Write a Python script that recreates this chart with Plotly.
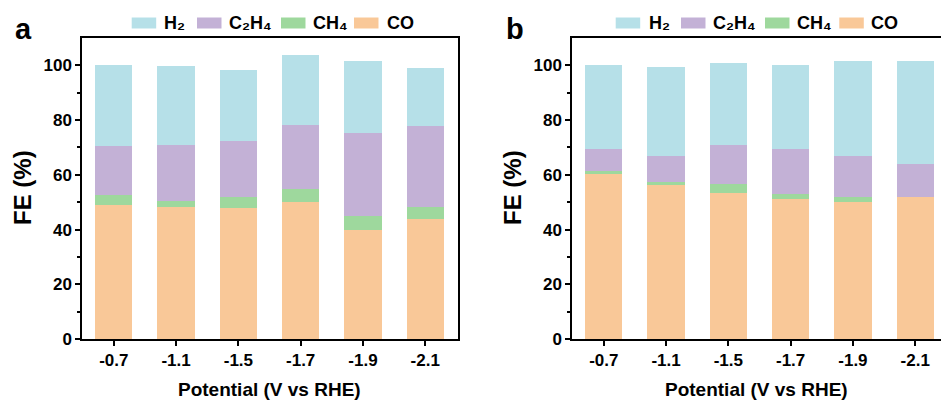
import plotly.graph_objects as go

# Applied potentials (V vs RHE)
potentials = ["-0.7", "-1.1", "-1.5", "-1.7", "-1.9", "-2.1"]

# Faradaic efficiencies (%) — panel a
a_co = [48.8, 48.1, 47.8, 50.0, 39.8, 43.8]
a_ch4 = [3.8, 2.5, 4.1, 4.9, 5.2, 4.5]
a_c2h4 = [18.1, 20.3, 20.6, 23.2, 30.2, 29.4]
a_h2 = [29.5, 28.7, 25.8, 25.8, 26.5, 21.5]

# Faradaic efficiencies (%) — panel b
b_co = [60.2, 56.3, 53.5, 51.1, 50.1, 51.9]
b_ch4 = [1.2, 1.1, 3.0, 1.8, 1.7, 0.0]
b_c2h4 = [8.2, 9.4, 14.3, 16.4, 15.2, 11.9]
b_h2 = [30.4, 32.5, 30.0, 30.9, 34.7, 37.7]

products = ["CO", "CH4", "C2H4", "H2"]
product_labels = {"H2": "H₂", "C2H4": "C₂H₄", "CH4": "CH₄", "CO": "CO"}
colors = {"H2": "#b6e0e8", "C2H4": "#c3b1d6", "CH4": "#9ed89d", "CO": "#f9c898"}

W, H = 941, 403
FONT = "Liberation Sans, Arial, sans-serif"

fig = go.Figure()

panels = [
    ("x", "y", {"CO": a_co, "CH4": a_ch4, "C2H4": a_c2h4, "H2": a_h2}),
    ("x2", "y2", {"CO": b_co, "CH4": b_ch4, "C2H4": b_c2h4, "H2": b_h2}),
]
for xa, ya, data in panels:
    for p in products:
        fig.add_trace(go.Bar(
            x=potentials, y=data[p], name=p, xaxis=xa, yaxis=ya,
            marker=dict(color=colors[p], line=dict(width=0)),
            width=0.6, showlegend=False,
        ))

def px_x(v):
    return v / W

def px_y(v):
    return (H - v) / H

y_dom = [px_y(339), px_y(38)]
tickfont = dict(family=FONT, size=17, color="black", weight="bold")

common_x = dict(
    type="category", showline=True, linecolor="black", linewidth=1.5,
    ticks="outside", ticklen=5, tickwidth=1.5, tickcolor="black",
    tickfont=tickfont, showgrid=False, zeroline=False, automargin=False,
)
common_y = dict(
    range=[0, 110], tickvals=[0, 20, 40, 60, 80, 100],
    showline=True, linecolor="black", linewidth=1.5,
    ticks="outside", ticklen=5, tickwidth=1.5, tickcolor="black",
    minor=dict(tickvals=[10, 30, 50, 70, 90], ticks="outside", ticklen=3,
               tickwidth=1.5, tickcolor="black"),
    tickfont=tickfont, showgrid=False, zeroline=False, domain=y_dom,
    automargin=False,
)

fig.update_layout(
    template="none",
    width=W, height=H, margin=dict(l=0, r=0, t=0, b=0, pad=0),
    paper_bgcolor="white", plot_bgcolor="white", barmode="stack",
    xaxis=dict(common_x, domain=[px_x(82), px_x(458)], range=[-0.51, 5.526],
               anchor="y", mirror=True),
    yaxis=dict(common_y, anchor="x", mirror=True),
    xaxis2=dict(common_x, domain=[px_x(572), 1.0], range=[-0.51, 5.414],
                anchor="y2", mirror=True),
    yaxis2=dict(common_y, anchor="x2", mirror=False),
)

annotations = []
shapes = []

# Panel letters, axis titles
for letter, lx, ytx, center in [("a", 23, 23, 269), ("b", 515, 513, 756)]:
    annotations.append(dict(
        text=letter, x=px_x(lx), y=px_y(29), xref="paper", yref="paper",
        xanchor="center", yanchor="middle", showarrow=False,
        font=dict(family=FONT, size=29, color="black", weight="bold")))
    annotations.append(dict(
        text="FE (%)", x=px_x(ytx), y=px_y(188), xref="paper", yref="paper",
        xanchor="center", yanchor="middle", textangle=-90, showarrow=False,
        font=dict(family=FONT, size=24, color="black", weight="bold")))
    annotations.append(dict(
        text="Potential (V vs RHE)", x=px_x(center), y=px_y(389),
        xref="paper", yref="paper", xanchor="center", yanchor="middle",
        showarrow=False,
        font=dict(family=FONT, size=19, color="black", weight="bold")))

# Legend rows: swatch left edge and label left edge for each product
legend_order = ["H2", "C2H4", "CH4", "CO"]
legend_rows = [
    ([131.7, 197.0, 281.0, 354.0], [162.0, 226.5, 311.0, 385.0]),
    ([615.7, 681.0, 765.0, 839.3], [646.5, 710.5, 795.0, 869.0]),
]
for sw_x, tx_x in legend_rows:
    for p, sx, tx in zip(legend_order, sw_x, tx_x):
        shapes.append(dict(
            type="rect", xref="paper", yref="paper",
            x0=px_x(sx), x1=px_x(sx + 24.5), y0=px_y(28.5), y1=px_y(17.5),
            fillcolor=colors[p], line=dict(width=0)))
        annotations.append(dict(
            text=product_labels[p], x=px_x(tx), y=px_y(23), xref="paper",
            yref="paper", xanchor="left", yanchor="middle", showarrow=False,
            font=dict(family=FONT, size=18, color="black", weight="bold")))

fig.update_layout(annotations=annotations, shapes=shapes)
fig.write_html("out.html")
